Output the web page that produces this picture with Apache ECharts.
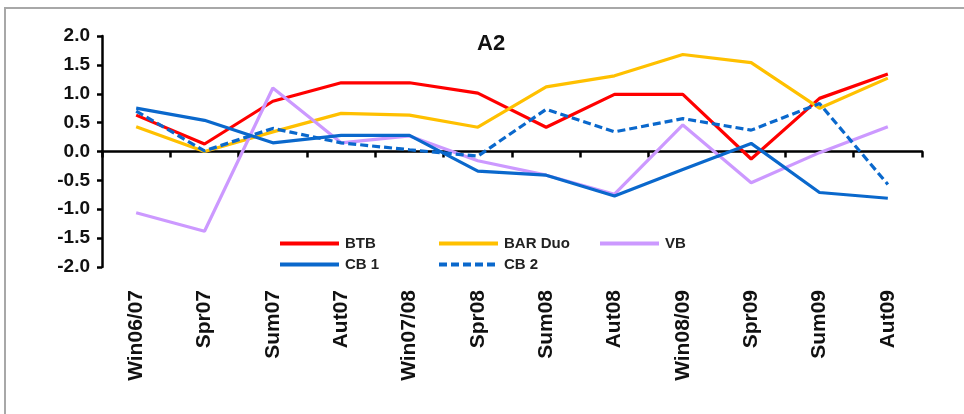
<!DOCTYPE html>
<html>
<head>
<meta charset="utf-8">
<script src="https://cdn.jsdelivr.net/npm/echarts@6/dist/echarts.min.js"></script>
<style>
html,body{margin:0;padding:0;background:#fff;}
#chart{width:964px;height:414px;}
</style>
</head>
<body>
<div id="chart"></div>
<script>
const categories = ['Win06/07','Spr07','Sum07','Aut07','Win07/08','Spr08','Sum08','Aut08','Win08/09','Spr09','Sum09','Aut09'];
const btb    = [0.63, 0.13, 0.87, 1.19, 1.19, 1.01, 0.42, 0.99, 0.99, -0.13, 0.92, 1.34];
const barDuo = [0.43, 0.00, 0.34, 0.66, 0.63, 0.42, 1.12, 1.31, 1.68, 1.54, 0.75, 1.27];
const vb     = [-1.06, -1.38, 1.10, 0.15, 0.27, -0.16, -0.41, -0.74, 0.46, -0.54, -0.02, 0.43];
const cb1    = [0.75, 0.54, 0.15, 0.28, 0.28, -0.34, -0.41, -0.77, -0.31, 0.14, -0.71, -0.81];
const cb2    = [0.70, 0.01, 0.40, 0.15, 0.03, -0.08, 0.73, 0.34, 0.57, 0.37, 0.83, -0.57];
const yTicks = { min: -2, max: 2, step: 0.5 };
const chartTitle = 'A2';

const chart = echarts.init(document.getElementById('chart'));
const FONT = '"Liberation Sans", Arial, sans-serif';

function line(name, data, color, dashed) {
  return {
    name: name, type: 'line', data: data, symbol: 'none', smooth: false,
    xAxisIndex: 0, yAxisIndex: 0,
    lineStyle: { color: color, width: 3.2, type: dashed ? [8, 4] : 'solid' },
    itemStyle: { color: color },
    emphasis: { disabled: true }, animation: false
  };
}
function leg(name, left, top) {
  return {
    data: [name], left: left, top: top, itemWidth: 59, itemHeight: 14,
    selectedMode: false, padding: 0,
    itemStyle: { opacity: 0 },
    lineStyle: { width: 4 },
    textStyle: { fontFamily: FONT, fontWeight: 'bold', fontSize: 15, color: '#222', padding: [0, 0, 0, 1] }
  };
}

chart.setOption({
  animation: false,
  backgroundColor: '#fff',
  title: {
    text: chartTitle, left: 477, top: 33, padding: 0,
    textStyle: { fontFamily: FONT, fontWeight: 'bold', fontSize: 22, color: '#111' }
  },
  graphic: [{
    type: 'rect', silent: true, z: -1,
    shape: { x: 5, y: 8, width: 1100, height: 600 },
    style: { fill: 'none', stroke: '#a8a8a8', lineWidth: 2 }
  }],
  legend: [
    leg('BTB', 278, 236),
    leg('BAR Duo', 437, 236),
    leg('VB', 598, 236),
    leg('CB 1', 278, 257),
    leg('CB 2', 437, 257)
  ],
  grid: { left: 102, right: 42, top: 36, bottom: 147, containLabel: false },
  xAxis: [{
    type: 'category', data: categories, boundaryGap: true,
    axisLine: { onZero: true, lineStyle: { color: '#000', width: 2.5 } },
    axisTick: { show: true, alignWithLabel: false, length: 6, lineStyle: { color: '#000', width: 2.5 } },
    axisLabel: { show: false }, splitLine: { show: false }
  }, {
    type: 'category', data: categories, boundaryGap: true, position: 'bottom',
    axisLine: { show: false, onZero: false }, axisTick: { show: false },
    axisLabel: { rotate: 90, margin: 23, interval: 0, fontFamily: FONT, fontWeight: 'bold', fontSize: 21, color: '#111' },
    splitLine: { show: false }
  }],
  yAxis: [{
    type: 'value', min: yTicks.min, max: yTicks.max, interval: yTicks.step,
    axisLine: { show: true, onZero: false, lineStyle: { color: '#000', width: 2.5 } },
    axisTick: { show: true, length: 5, lineStyle: { color: '#000', width: 2.5 } },
    axisLabel: { margin: 12, fontFamily: FONT, fontWeight: 'bold', fontSize: 19, color: '#111',
      formatter: function (v) { return v.toFixed(1); } },
    splitLine: { show: false }
  }],
  series: [
    line('BTB', btb, '#ff0000', false),
    line('BAR Duo', barDuo, '#ffc000', false),
    line('VB', vb, '#cc99ff', false),
    line('CB 1', cb1, '#0a68cc', false),
    line('CB 2', cb2, '#0a68cc', true)
  ]
});
</script>
</body>
</html>
